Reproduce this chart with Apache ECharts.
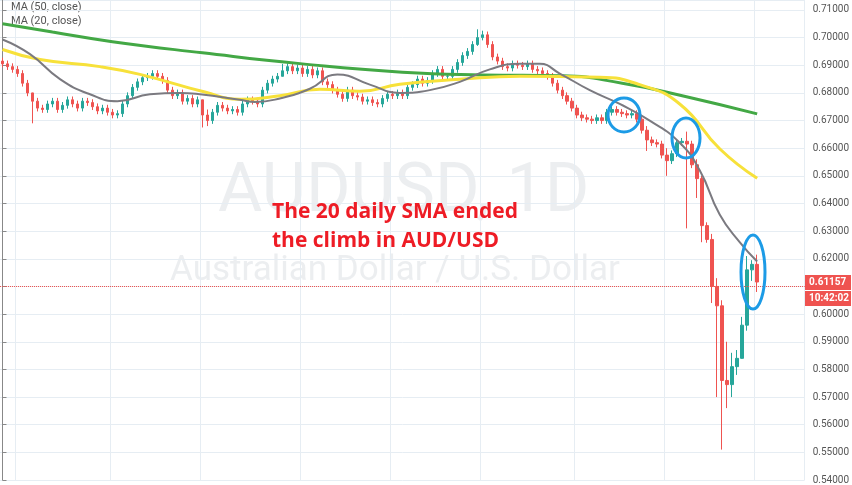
<!DOCTYPE html>
<html>
<head>
<meta charset="utf-8">
<script src="https://cdn.jsdelivr.net/npm/echarts@6/dist/echarts.min.js"></script>
<style>html,body{margin:0;padding:0;background:#fff}#main{width:852px;height:485px}</style>
</head>
<body>
<div id="main"></div>
<script>
// daily closes, AUD/USD
const closes = [
  0.6905, 0.6895, 0.6885, 0.6870, 0.6835, 0.6800, 0.6770, 0.6745, 0.6740, 0.6760,
  0.6770, 0.6740, 0.6755, 0.6775, 0.6760, 0.6745, 0.6770, 0.6765, 0.6750, 0.6735,
  0.6745, 0.6730, 0.6720, 0.6725, 0.6760, 0.6790, 0.6820, 0.6840, 0.6855, 0.6860,
  0.6870, 0.6860, 0.6845, 0.6810, 0.6790, 0.6800, 0.6770, 0.6780, 0.6760, 0.6775,
  0.6720, 0.6700, 0.6730, 0.6755, 0.6745, 0.6735, 0.6740, 0.6730, 0.6760, 0.6775,
  0.6770, 0.6760, 0.6810, 0.6835, 0.6850, 0.6860, 0.6880, 0.6895, 0.6880, 0.6890,
  0.6870, 0.6885, 0.6865, 0.6880, 0.6840, 0.6830, 0.6810, 0.6795, 0.6780, 0.6810,
  0.6790, 0.6785, 0.6770, 0.6775, 0.6765, 0.6760, 0.6780, 0.6795, 0.6790, 0.6800,
  0.6790, 0.6820, 0.6830, 0.6850, 0.6835, 0.6845, 0.6870, 0.6885, 0.6860, 0.6860,
  0.6885, 0.6910, 0.6935, 0.6950, 0.6975, 0.7000, 0.7010, 0.6975, 0.6930, 0.6915,
  0.6895, 0.6890, 0.6905, 0.6900, 0.6895, 0.6905, 0.6885, 0.6880, 0.6870, 0.6860,
  0.6835, 0.6810, 0.6790, 0.6770, 0.6745, 0.6720, 0.6710, 0.6705, 0.6700, 0.6710,
  0.6700, 0.6730, 0.6740, 0.6730, 0.6725, 0.6720, 0.6725, 0.6705, 0.6665, 0.6630,
  0.6620, 0.6615, 0.6575, 0.6555, 0.6580, 0.6620, 0.6625, 0.6615, 0.6540, 0.6490,
  0.6320, 0.6270, 0.6100, 0.6030, 0.5760, 0.5745, 0.5810, 0.5840, 0.5960, 0.6160,
  0.6180, 0.6116
];
const firstOpen = 0.6915;
const wick = 0.0012;
// notable wicks: index -> [low, high]
const wickOverrides = {
  6: [0.6690, 0.6790], 40: [0.6675, 0.6775], 41: [0.6680, 0.6740], 56: [0.6860, 0.6905],
  95: [0.6970, 0.7030], 96: [0.6990, 0.7025], 129: [0.6590, 0.6680], 133: [0.6500, 0.6600],
  137: [0.6310, 0.6660], 139: [0.6420, 0.6560], 140: [0.6260, 0.6500], 142: [0.6040, 0.6290],
  143: [0.5700, 0.6130], 144: [0.5510, 0.6050], 145: [0.5660, 0.5900], 146: [0.5700, 0.5860],
  147: [0.5780, 0.5870], 148: [0.5870, 0.5990], 149: [0.5940, 0.6210], 150: [0.6120, 0.6195],
  151: [0.6080, 0.6215]
};
const emptySlots = 9;
const lastPrice = 0.61157;

// moving averages: [candle index, value]
const ma100 = [[0,0.7050],[10,0.7020],[22,0.6985],[40,0.6945],[60,0.6905],[80,0.6875],[96,0.6865],[112,0.6862],[124,0.6835],[136,0.6790],[151,0.6724]];
const ma50 = [[0,0.6957],[7.5,0.6921],[19.5,0.6895],[27.5,0.6867],[40.5,0.6803],[47.5,0.6777],[55.5,0.6790],[63.5,0.6813],[71.5,0.6806],[79.5,0.6831],[91.5,0.6849],[103.5,0.6860],[119.5,0.6857],[127.5,0.6830],[135.5,0.6760],[143.5,0.6598],[151,0.6491]];
const ma20 = [[0,0.6993],[5.5,0.6940],[11.5,0.6850],[17.5,0.6795],[23,0.6770],[29.5,0.6795],[35.5,0.6800],[39.5,0.6795],[47.5,0.6775],[50.5,0.6767],[55.5,0.6780],[61.5,0.6815],[67,0.6867],[73.5,0.6830],[79.5,0.6800],[85.5,0.6810],[91.5,0.6840],[97.5,0.6885],[103.5,0.6905],[107.5,0.6905],[111.5,0.6870],[117.5,0.6810],[123.5,0.6760],[129.5,0.6700],[135.5,0.6620],[139.5,0.6520],[143.5,0.6360],[147.5,0.6260],[151,0.6190]];

const gridIdx = [3, 22, 40, 60, 78, 96, 115, 133, 151];

const candles = closes.map((c, i) => {
  const o = i === 0 ? firstOpen : closes[i - 1];
  const w = wickOverrides[i];
  const lo = w ? w[0] : Math.min(o, c) - wick;
  const hi = w ? w[1] : Math.max(o, c) + wick;
  return [o, c, lo, hi];
});
const cats = [];
for (let i = 0; i < closes.length + emptySlots; i++) cats.push(String(i));

const chart = echarts.init(document.getElementById('main'));
const ellipse = (cx, cy, rx, ry) => ({
  type: 'ellipse', shape: { cx, cy, rx, ry }, z: 100,
  style: { fill: 'none', stroke: '#1c9be6', lineWidth: 3 }
});
chart.setOption({
  animation: false,
  grid: { left: 0, right: 46, top: 0, bottom: 1 },
  xAxis: [
    {
      type: 'category', data: cats,
      axisLine: { show: false }, axisTick: { show: false }, axisLabel: { show: false },
      splitLine: { show: true, interval: (i) => gridIdx.includes(i), lineStyle: { color: '#e6edf3' } }
    },
    { type: 'value', min: -0.5, max: cats.length - 0.5, show: false }
  ],
  yAxis: {
    type: 'value', position: 'right', min: 0.54, max: 0.7136, interval: 0.01,
    axisLine: { show: true, lineStyle: { color: '#888' } }, axisTick: { show: true, length: 4, lineStyle: { color: '#888' } },
    axisLabel: { color: '#555', fontSize: 10, fontFamily: 'Roboto', formatter: (v) => v.toFixed(5), showMaxLabel: false },
    splitLine: { lineStyle: { color: '#e6edf3' } }
  },
  graphic: [
    { type: 'text', left: 218, top: 160, silent: true, style: { text: 'AUDUSD, 1D', fill: 'rgba(150,160,170,0.18)', font: '68px Roboto' }, z: -1 },
    { type: 'text', left: 170, top: 254, silent: true, style: { text: 'Australian Dollar / U.S. Dollar', fill: 'rgba(150,160,170,0.18)', font: '35px Roboto' }, z: -1 },
    { type: 'text', left: 272, top: 198, style: { text: 'The 20 daily SMA ended\nthe climb in AUD/USD', fill: '#ee1c25', font: 'bold 21px "Open Sans"', lineHeight: 29 }, z: 100 },
    { type: 'text', left: 11, top: 2, style: { text: 'MA (50, close)', fill: '#555', font: '11px Roboto' } },
    { type: 'text', left: 11, top: 16, style: { text: 'MA (20, close)', fill: '#555', font: '11px Roboto' } },
    ellipse(624, 115, 16, 17),
    ellipse(686, 138, 14, 20),
    ellipse(753, 272, 12, 37),
    { type: 'rect', shape: { x: 805, y: 275, width: 46, height: 15 }, style: { fill: '#ef5350' }, z: 100 },
    { type: 'text', left: 809, top: 277, style: { text: lastPrice.toFixed(5), fill: '#fff', font: 'bold 10px Roboto' }, z: 101 },
    { type: 'rect', shape: { x: 805, y: 291, width: 46, height: 15 }, style: { fill: '#ef5350' }, z: 100 },
    { type: 'text', left: 809, top: 293, style: { text: '10:42:02', fill: '#fff', font: 'bold 10px Roboto' }, z: 101 }
  ],
  series: [
    {
      type: 'candlestick', data: candles, barWidth: 3,
      itemStyle: { color: '#26a69a', color0: '#ef5350', borderColor: '#26a69a', borderColor0: '#ef5350', borderWidth: 1 },
      markLine: {
        symbol: 'none', silent: true, label: { show: false },
        lineStyle: { color: '#ef5350', type: 'dotted', width: 1 },
        data: [{ yAxis: lastPrice }]
      }
    },
    { type: 'line', xAxisIndex: 1, data: ma100, smooth: true, symbol: 'none', lineStyle: { color: '#43a845', width: 3 } },
    { type: 'line', xAxisIndex: 1, data: ma50, smooth: true, symbol: 'none', lineStyle: { color: '#f7e13a', width: 3 } },
    { type: 'line', xAxisIndex: 1, data: ma20, smooth: true, symbol: 'none', lineStyle: { color: '#7b7a80', width: 2 } }
  ]
});
</script>
</body>
</html>
